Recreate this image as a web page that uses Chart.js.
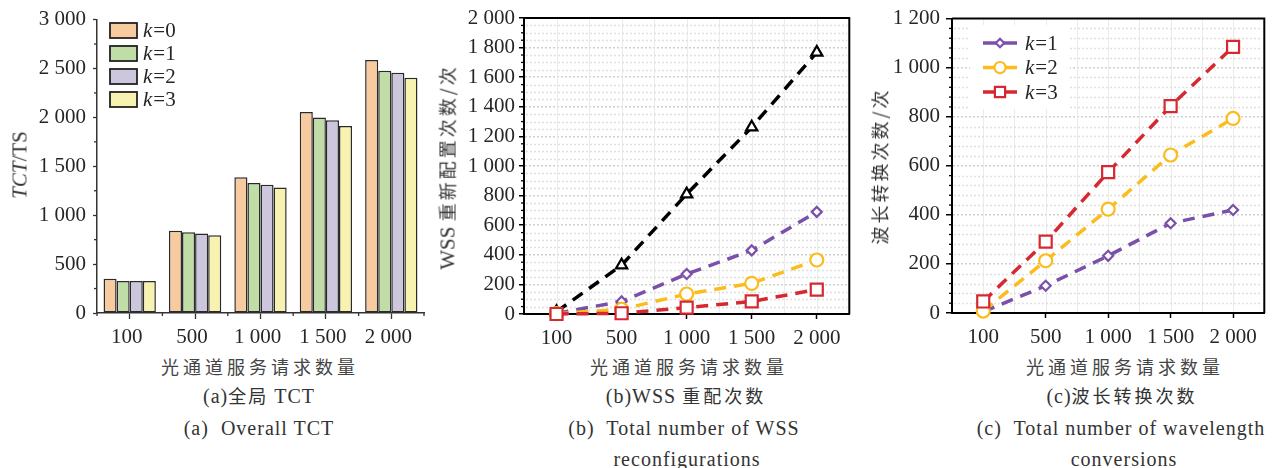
<!DOCTYPE html>
<html>
<head>
<meta charset="utf-8">
<script src="https://cdn.jsdelivr.net/npm/chart.js@4.4.1/dist/chart.umd.min.js"></script>
<style>
  body { margin: 0; background: #fff; width: 1275px; height: 468px; overflow: hidden; position: relative;
         font-family: "Liberation Serif", "Noto Sans CJK SC", serif; color: #333; }
  canvas { position: absolute; top: 0; }
  .t { position: absolute; white-space: nowrap; transform: translate(-50%, -50%); font-size: 20px; line-height: 1; letter-spacing: 1px; }
  .cn { font-family: "Noto Sans CJK SC", sans-serif; font-size: 18px; letter-spacing: 4px; color: #444; }
  .cn3 { font-family: "Noto Sans CJK SC", sans-serif; font-size: 18px; letter-spacing: 3px; }
  .yt { transform: translate(-50%, -50%) rotate(-90deg); letter-spacing: 0; }
</style>
</head>
<body>
<canvas id="chartA" width="430" height="345" style="left:0"></canvas>
<canvas id="chartB" width="430" height="345" style="left:430px"></canvas>
<canvas id="chartC" width="415" height="345" style="left:860px"></canvas>

<div class="t yt" style="left:20px;top:165px;font-size:21px"><i>TCT</i>/TS</div>
<div class="t yt" style="left:448px;top:167px;font-size:21px">WSS <span class="cn3">重新配置次数/次</span></div>
<div class="t yt" style="left:880px;top:166px"><span class="cn3">波长转换次数/次</span></div>

<div class="t cn" style="left:260px;top:366px">光通道服务请求数量</div>
<div class="t cn" style="left:689px;top:366px">光通道服务请求数量</div>
<div class="t cn" style="left:1125px;top:366px">光通道服务请求数量</div>

<div class="t" style="left:259px;top:396px">(a)<span class="cn3" style="letter-spacing:2px">全局</span> TCT</div>
<div class="t" style="left:686px;top:396px">(b)WSS <span class="cn3">重配次数</span></div>
<div class="t" style="left:1122px;top:396px">(c)<span class="cn3">波长转换次数</span></div>

<div class="t" style="left:259px;top:428px">(a)&nbsp; Overall TCT</div>
<div class="t" style="left:684px;top:428px">(b)&nbsp; Total number of WSS</div>
<div class="t" style="left:1121px;top:428px">(c)&nbsp; Total number of wavelength</div>
<div class="t" style="left:687px;top:459px">reconfigurations</div>
<div class="t" style="left:1124px;top:459px">conversions</div>

<script>
// 光通道服务请求数量
const requests = ['100', '500', '1 000', '1 500', '2 000'];

// (a) 全局 TCT
const tctK0 = [350, 840, 1387, 2055, 2588];
const tctK1 = [327, 826, 1329, 1998, 2477];
const tctK2 = [327, 813, 1312, 1971, 2456];
const tctK3 = [327, 796, 1282, 1913, 2406];

// (b) WSS 重配次数
const wssK0 = [15, 330, 810, 1262, 1768];
const wssK1 = [5, 85, 270, 430, 690];
const wssK2 = [2, 32, 135, 207, 365];
const wssK3 = [0, 5, 43, 85, 165];

// (c) 波长转换次数
const wlK1 = [5, 111, 233, 366, 420];
const wlK2 = [8, 213, 423, 644, 793];
const wlK3 = [47, 291, 574, 843, 1085];

Chart.defaults.font.family = '"Liberation Serif", "Noto Sans CJK SC", serif';
Chart.defaults.font.size = 21;
Chart.defaults.color = '#262626';

// 千位用空格分隔: 1 000
const fmt = v => v >= 1000 ? Math.floor(v / 1000) + ' ' + String(v % 1000).padStart(3, '0') : String(v);

// 次刻度、分类边界刻度、网格、外框
const axisExtras = {
  id: 'axisExtras',
  beforeDatasetsDraw(chart, args, o) {
    const { ctx, chartArea: a, scales: { x, y } } = chart;
    ctx.save();
    if (o.vgrid) {
      ctx.strokeStyle = '#ebebeb';
      ctx.lineWidth = 1;
      for (let i = 0; i < x.ticks.length; i += 0.5) {
        const px = Math.round(x.getPixelForValue(i)) + 0.5;
        ctx.beginPath(); ctx.moveTo(px, a.top + 1); ctx.lineTo(px, a.bottom - 1); ctx.stroke();
      }
    }
    if (o.minorGrid) {
      ctx.strokeStyle = '#e0e0e0';
      ctx.lineWidth = 1.5;
      ctx.setLineDash([2, 2]);
      for (let v = o.minor; v < y.max; v += o.minor) {
        if (v % o.major === 0) continue;
        const py = Math.round(y.getPixelForValue(v)) + 0.5;
        ctx.beginPath(); ctx.moveTo(a.left + 2, py); ctx.lineTo(a.right - 2, py); ctx.stroke();
      }
      ctx.setLineDash([]);
    }
    ctx.strokeStyle = o.color;
    ctx.lineWidth = 1.3;
    for (let v = 0; v <= y.max; v += o.minor) {
      if (v % o.major === 0) continue;
      const py = y.getPixelForValue(v);
      ctx.beginPath(); ctx.moveTo(a.left - o.minorLen, py); ctx.lineTo(a.left, py); ctx.stroke();
    }
    if (o.edgeTicks) {
      for (let i = -0.5; i < x.ticks.length; i += 1) {
        const px = x.getPixelForValue(i);
        ctx.beginPath(); ctx.moveTo(px, a.bottom); ctx.lineTo(px, a.bottom + 3); ctx.stroke();
      }
    }
    ctx.restore();
  },
  afterDraw(chart, args, o) {
    if (!o.frame) return;
    const { ctx, chartArea: a } = chart;
    ctx.save();
    ctx.strokeStyle = '#000';
    ctx.lineWidth = 2;
    ctx.beginPath();
    ctx.moveTo(a.left, a.top); ctx.lineTo(a.right, a.top); ctx.lineTo(a.right, a.bottom);
    ctx.stroke();
    ctx.restore();
  }
};

// 图内图例
const inLegend = {
  id: 'inLegend',
  afterDraw(chart, args, o) {
    const ctx = chart.ctx;
    ctx.save();
    if (o.bg) {
      ctx.fillStyle = '#fff';
      ctx.fillRect(o.bg[0], o.bg[1], o.bg[2], o.bg[3]);
    }
    chart.data.datasets.forEach((ds, i) => {
      const y = o.y + i * o.gap;
      if (o.kind === 'box') {
        ctx.fillStyle = ds.backgroundColor;
        ctx.strokeStyle = '#222';
        ctx.lineWidth = 1.8;
        ctx.fillRect(o.x, y - 7.5, 27, 15);
        ctx.strokeRect(o.x, y - 7.5, 27, 15);
      } else {
        ctx.strokeStyle = ds.borderColor;
        ctx.lineWidth = 3.5;
        ctx.beginPath(); ctx.moveTo(o.x, y); ctx.lineTo(o.x + o.len, y); ctx.stroke();
        ctx.fillStyle = '#fff';
        ctx.lineWidth = 2.2;
        Chart.helpers.drawPoint(ctx, { pointStyle: ds.pointStyle, radius: ds.pointRadius * 0.85, borderWidth: 2.2, rotation: 0 }, o.x + o.len / 2, y);
      }
      const parts = ds.label.split('=');
      ctx.fillStyle = '#262626';
      ctx.textBaseline = 'middle';
      ctx.textAlign = 'left';
      ctx.font = 'italic 21px "Liberation Serif"';
      ctx.fillText(parts[0], o.tx, y + 1);
      const w = ctx.measureText(parts[0]).width;
      ctx.font = '21px "Liberation Serif"';
      ctx.fillText('=' + parts[1], o.tx + w + 1, y + 1);
    });
    ctx.restore();
  }
};

function barSet(label, data, color) {
  return { label, data, backgroundColor: color, borderColor: '#2a2a2a', borderWidth: 1.5, borderSkipped: false,
           categoryPercentage: 0.8, barPercentage: 1.0 };
}

new Chart(document.getElementById('chartA'), {
  type: 'bar',
  data: {
    labels: requests,
    datasets: [
      barSet('k=0', tctK0, '#f7cb9f'),
      barSet('k=1', tctK1, '#c0dda8'),
      barSet('k=2', tctK2, '#ccc7dd'),
      barSet('k=3', tctK3, '#f8f2b0')
    ]
  },
  options: {
    responsive: false, animation: false, devicePixelRatio: 1,
    layout: { padding: { top: 17, right: 6, left: 0, bottom: 0 } },
    plugins: {
      legend: { display: false }, tooltip: { enabled: false },
      axisExtras: { color: '#333', minor: 250, major: 500, minorLen: 3, edgeTicks: true },
      inLegend: { kind: 'box', x: 110, y: 30.5, gap: 23, tx: 143 }
    },
    scales: {
      x: {
        offset: true,
        grid: { offset: false, drawOnChartArea: false, tickLength: 6, tickColor: '#333', tickWidth: 1.3 },
        border: { color: '#333', width: 1.5 },
        ticks: { padding: 6, labelOffset: -3 },
        afterFit: s => { s.height = 32; }
      },
      y: {
        min: 0, max: 3000,
        grid: { drawOnChartArea: false, tickLength: 4, tickColor: '#333', tickWidth: 1.3 },
        border: { color: '#333', width: 1.5 },
        ticks: { stepSize: 500, padding: 7, callback: v => fmt(v) },
        afterFit: s => { s.width = 97; }
      }
    }
  },
  plugins: [axisExtras, inLegend]
});

function lineSet(label, data, color, style, r, order) {
  return { label, data, borderColor: color, borderWidth: 3.5, borderDash: [12, 8], fill: false, tension: 0,
           pointStyle: style, pointRadius: r, pointBorderWidth: 2.2, pointBackgroundColor: '#fff',
           pointBorderColor: color, clip: false, order };
}

function lineOptions(ymax, major, minor, yWidth, xHeight, pad, tickLen, tickPad, legend) {
  return {
    responsive: false, animation: false, devicePixelRatio: 1,
    layout: { padding: pad },
    plugins: {
      legend: { display: false }, tooltip: { enabled: false },
      axisExtras: { color: '#000', minor, major, minorLen: 3, vgrid: true, minorGrid: true, frame: true },
      inLegend: legend
    },
    scales: {
      x: {
        type: 'category', offset: true,
        grid: { offset: false, drawOnChartArea: false, tickLength: 5, tickColor: '#000', tickWidth: 1.5 },
        border: { color: '#000', width: 2 },
        ticks: { padding: 7 },
        afterFit: s => { s.height = xHeight; }
      },
      y: {
        min: 0, max: ymax,
        grid: {
          color: c => (c.tick.value === 0 || c.tick.value === ymax) ? 'rgba(0,0,0,0)' : '#cfcfcf',
          lineWidth: 1.5, tickLength: tickLen, tickColor: '#000', tickWidth: 1.5
        },
        border: { color: '#000', width: 2, dash: [2, 2] },
        ticks: { stepSize: major, padding: tickPad, callback: v => fmt(v) },
        afterFit: s => { s.width = yWidth; }
      }
    }
  };
}

new Chart(document.getElementById('chartB'), {
  type: 'line',
  data: {
    labels: requests,
    datasets: [
      lineSet('k=0', wssK0, '#000000', 'triangle', 6.5, 4),
      lineSet('k=1', wssK1, '#7a50aa', 'rectRot', 5, 3),
      lineSet('k=2', wssK2, '#fbbd1e', 'circle', 6.5, 2),
      lineSet('k=3', wssK3, '#d62831', 'rect', 8.5, 1)
    ]
  },
  options: lineOptions(2000, 200, 50, 94, 31, { top: 18, right: 9, left: 0, bottom: 0 }, 5, 4,
    { kind: 'line', x: 553, y: 42, gap: 22, len: 35, tx: 598, bg: [541, 24, 92, 96] }),
  plugins: [axisExtras, inLegend]
});

new Chart(document.getElementById('chartC'), {
  type: 'line',
  data: {
    labels: requests,
    datasets: [
      lineSet('k=1', wlK1, '#7a50aa', 'rectRot', 5, 3),
      lineSet('k=2', wlK2, '#fbbd1e', 'circle', 6.5, 2),
      lineSet('k=3', wlK3, '#d62831', 'rect', 8.5, 1)
    ]
  },
  options: lineOptions(1200, 200, 40, 92, 32, { top: 18, right: 1, left: 0, bottom: 0 }, 6, 6,
    { kind: 'line', x: 983 - 860, y: 43, gap: 24.5, len: 34, tx: 1025 - 860, bg: [110, 25, 100, 84] }),
  plugins: [axisExtras, inLegend]
});
</script>
</body>
</html>
